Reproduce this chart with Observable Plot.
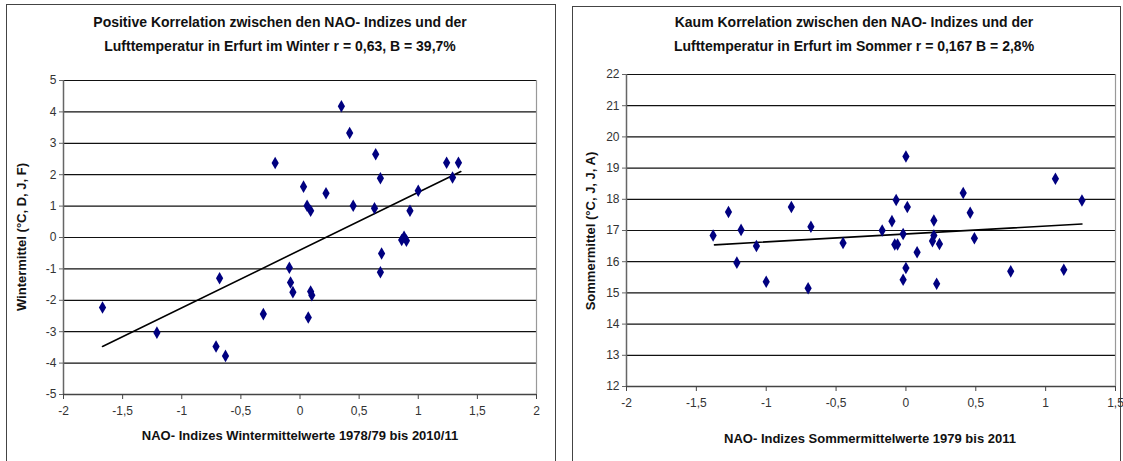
<!DOCTYPE html>
<html>
<head>
<meta charset="utf-8">
<script src="https://cdn.jsdelivr.net/npm/d3@7"></script>
<script src="https://cdn.jsdelivr.net/npm/@observablehq/plot@0.6"></script>
<style>
  html, body { margin: 0; padding: 0; background: #fff; }
  body { width: 1123px; height: 461px; position: relative; overflow: hidden;
         font-family: "Liberation Sans Narrow", "Arial Narrow", "Liberation Sans", sans-serif; }
  .box { position: absolute; border: 1px solid #444; background: #fff; }
  .abs { position: absolute; }
  .title { position: absolute; text-align: center; font-weight: bold; font-size: 14px; line-height: 24px; color: #111; white-space: nowrap; }
  .xlab { position: absolute; text-align: center; font-weight: bold; font-size: 13px; color: #111; white-space: nowrap; }
  .ylab { position: absolute; font-weight: bold; font-size: 13px; color: #111; white-space: nowrap;
          transform: translate(-50%, -50%) rotate(-90deg); }
</style>
</head>
<body>
<div class="box" style="left:6px; top:4px; width:548px; height:470px;"></div>
<div class="box" style="left:572px; top:6px; width:547px; height:470px;"></div>

<div class="title" style="left:6px; width:548px; top:10px;">Positive Korrelation zwischen den NAO- Indizes und der<br>Lufttemperatur in Erfurt im Winter r = 0,63, B = 39,7%</div>
<div class="title" style="left:572px; width:564px; top:10px;">Kaum Korrelation zwischen den NAO- Indizes und der<br>Lufttemperatur in Erfurt im Sommer r = 0,167 B = 2,8%</div>

<div id="left" class="abs" style="left:0; top:0;"></div>
<div id="right" class="abs" style="left:560px; top:0;"></div>

<div class="ylab" style="left:21px; top:237px;">Wintermittel (°C, D, J, F)</div>
<div class="ylab" style="left:590px; top:231px;">Sommermittel (°C, J, J, A)</div>
<div class="xlab" style="left:100px; width:400px; top:428px;">NAO- Indizes Wintermittelwerte 1978/79 bis 2010/11</div>
<div class="xlab" style="left:670px; width:400px; top:431px;">NAO- Indizes Sommermittelwerte 1979 bis 2011</div>

<script>
// ---- Winter data (NAO index, mean temperature °C) ----
const winterNAO = [-1.67, -1.21, -0.71, -0.63, -0.68, -0.31, -0.21, -0.09, -0.08, -0.06,
                   0.03, 0.06, 0.09, 0.09, 0.10, 0.07, 0.22, 0.35, 0.42, 0.45,
                   0.64, 0.68, 0.63, 0.69, 0.68, 0.93, 0.86, 0.88, 0.90, 1.00,
                   1.24, 1.34, 1.29];
const winterTemp = [-2.23, -3.03, -3.47, -3.77, -1.30, -2.44, 2.37, -0.96, -1.43, -1.74,
                    1.62, 1.01, 0.85, -1.72, -1.84, -2.55, 1.41, 4.18, 3.33, 1.01,
                    2.65, 1.89, 0.93, -0.51, -1.11, 0.85, -0.08, 0.02, -0.10, 1.49,
                    2.38, 2.38, 1.91];
const winterTrendNAO = [-1.67, 1.36];
const winterTrendTemp = [-3.47, 2.1];

// ---- Summer data ----
const summerNAO = [-1.38, -1.27, -1.18, -1.21, -1.07, -1.00, -0.82, -0.70, -0.68, -0.45,
                   0.00, -0.07, 0.01, -0.10, -0.17, 0.20, 0.41, 0.46, 1.07, 1.26,
                   -0.02, 0.20, 0.19, 0.24, -0.08, -0.06, 0.08, 0.00, -0.02, 0.22,
                   0.49, 0.75, 1.13];
const summerTemp = [16.84, 17.59, 17.02, 15.97, 16.50, 15.36, 17.75, 15.15, 17.12, 16.60,
                    19.37, 17.98, 17.75, 17.30, 17.00, 17.32, 18.20, 17.57, 18.66, 17.96,
                    16.89, 16.84, 16.66, 16.57, 16.55, 16.55, 16.30, 15.80, 15.42, 15.29,
                    16.75, 15.69, 15.74];
const summerTrendNAO = [-1.37, 1.26];
const summerTrendTemp = [16.54, 17.21];

// ---- Ticks ----
const winterXTicks = [-2, -1.5, -1, -0.5, 0, 0.5, 1, 1.5, 2];
const winterYTicks = [-5, -4, -3, -2, -1, 0, 1, 2, 3, 4, 5];
const summerXTicks = [-2, -1.5, -1, -0.5, 0, 0.5, 1, 1.5];
const summerYTicks = [12, 13, 14, 15, 16, 17, 18, 19, 20, 21, 22];

const fmt = d => String(d).replace(".", ",");
const font = '"Liberation Sans Narrow", "Arial Narrow", "Liberation Sans", sans-serif';

function panel({nao, temp, tNao, tTemp, xTicks, yTicks, width, height, ml, mr, mt, mb}) {
  const pts = nao.map((x, i) => ({x, y: temp[i]}));
  const trend = tNao.map((x, i) => ({x, y: tTemp[i]}));
  const xd = [xTicks[0], xTicks[xTicks.length - 1]];
  const yd = [yTicks[0], yTicks[yTicks.length - 1]];
  return Plot.plot({
    width, height, marginLeft: ml, marginRight: mr, marginTop: mt, marginBottom: mb,
    style: {fontFamily: font, fontSize: "12px", background: "transparent", color: "#222", overflow: "visible"},
    x: {domain: xd, label: null},
    y: {domain: yd, label: null},
    marks: [
      Plot.gridY(yTicks, {stroke: "#111", strokeOpacity: 1, strokeWidth: 1.2}),
      Plot.ruleX([xd[1]], {stroke: "#999", strokeWidth: 1.2}),
      Plot.ruleX([xd[0]], {stroke: "#666", strokeWidth: 1.5}),
      Plot.ruleY([yd[0]], {stroke: "#444", strokeWidth: 1.5}),
      Plot.axisX({ticks: xTicks, tickFormat: fmt, tickSize: 5, tickPadding: 7, stroke: "#444", fill: "#333"}),
      Plot.axisY({ticks: yTicks, tickFormat: fmt, tickSize: 4, tickPadding: 3, stroke: "#666", fill: "#333"}),
      Plot.line(trend, {x: "x", y: "y", stroke: "#000", strokeWidth: 1.6}),
      Plot.dot(pts, {x: "x", y: "y", symbol: "diamond", r: 3.8, fill: "#000080", stroke: "none"})
    ]
  });
}

document.getElementById("left").append(panel({
  nao: winterNAO, temp: winterTemp, tNao: winterTrendNAO, tTemp: winterTrendTemp,
  xTicks: winterXTicks, yTicks: winterYTicks,
  width: 560, height: 461, ml: 63, mr: 24, mt: 80, mb: 67
}));
document.getElementById("right").append(panel({
  nao: summerNAO, temp: summerTemp, tNao: summerTrendNAO, tTemp: summerTrendTemp,
  xTicks: summerXTicks, yTicks: summerYTicks,
  width: 563, height: 461, ml: 66, mr: 8, mt: 74, mb: 75
}));
</script>
</body>
</html>
